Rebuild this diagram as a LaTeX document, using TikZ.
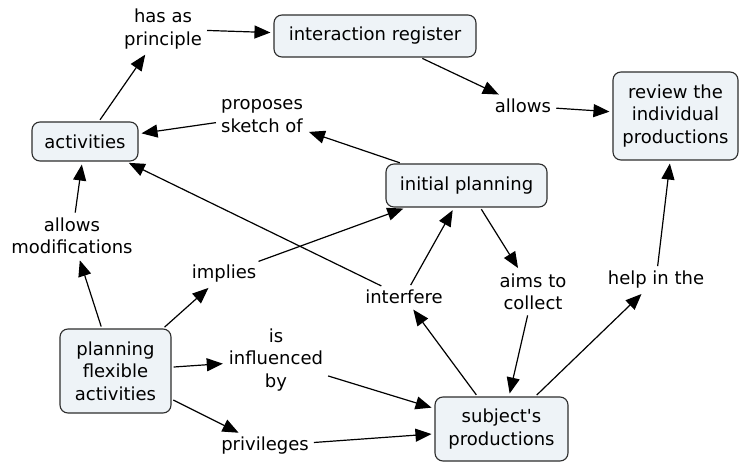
\documentclass[tikz,border=0pt]{standalone}
\usepackage{fontspec}
\setmainfont{DejaVu Sans}
\usetikzlibrary{arrows.meta}
\definecolor{boxfill}{RGB}{238,243,247}
\definecolor{boxline}{RGB}{45,45,45}
\tikzset{
  concept/.style={draw=boxline, line width=1.1pt, fill=boxfill, rounded corners=8pt, align=center, inner sep=0pt, font=\fontsize{18}{22.5}\selectfont},
  lbl/.style={align=center, inner sep=3pt, font=\fontsize{18}{22.5}\selectfont},
  conn/.style={line width=1.2pt, -{Triangle[length=16pt,width=13pt]}, shorten >=3pt, shorten <=2pt},
}
\begin{document}
\begin{tikzpicture}[x=1pt,y=-1pt]
\useasboundingbox (0,0) rectangle (739,462);
% concepts
\node[concept, minimum width=202pt, minimum height=42pt] (ireg) at (375,36) {interaction register};
\node[concept, minimum width=125pt, minimum height=88pt] (rev) at (675.5,116) {review the\\individual\\productions};
\node[concept, minimum width=106pt, minimum height=39pt] (act) at (85,141.5) {activities};
\node[concept, minimum width=161pt, minimum height=43pt] (initp) at (466.5,185.5) {initial planning};
\node[concept, minimum width=111pt, minimum height=84pt] (pfa) at (115.5,371) {planning\\flexible\\activities};
\node[concept, minimum width=133pt, minimum height=64pt] (subj) at (501.5,429) {subject\textquotesingle s\\productions};
% linking phrases
\node[lbl] (hap) at (163,29) {has as\\principle};
\node[lbl] (allows) at (523,106) {allows};
\node[lbl] (prop) at (262,116) {proposes\\sketch of};
\node[lbl] (amod) at (72,236) {allows\\modifications};
\node[lbl] (impl) at (224,274) {implies};
\node[lbl] (intf) at (404,297) {interfere};
\node[lbl] (aims) at (533,292) {aims to\\collect};
\node[lbl] (help) at (656,280) {help in the};
\node[lbl] (infl) at (276,360) {is\\influenced\\by};
\node[lbl] (priv) at (265,446) {privileges};
% connectors
\draw[conn] (act) -- (hap);
\draw[conn] (hap) -- (ireg);
\draw[conn] (ireg) -- (allows);
\draw[conn] (allows) -- (rev);
\draw[conn] (initp) -- (prop);
\draw[conn] (prop) -- (act);
\draw[conn] (intf) -- (act);
\draw[conn] (subj) -- (intf);
\draw[conn] (intf) -- (initp);
\draw[conn] (initp) -- (aims);
\draw[conn] (aims) -- (subj);
\draw[conn] (subj) -- (help);
\draw[conn] (help) -- (rev);
\draw[conn] (pfa) -- (amod);
\draw[conn] (amod) -- (act);
\draw[conn] (pfa) -- (impl);
\draw[conn] (impl) -- (initp);
\draw[conn] (pfa) -- (infl);
\draw[conn] (infl) -- (subj);
\draw[conn] (pfa) -- (priv);
\draw[conn] (priv) -- (subj);
\end{tikzpicture}
\end{document}
